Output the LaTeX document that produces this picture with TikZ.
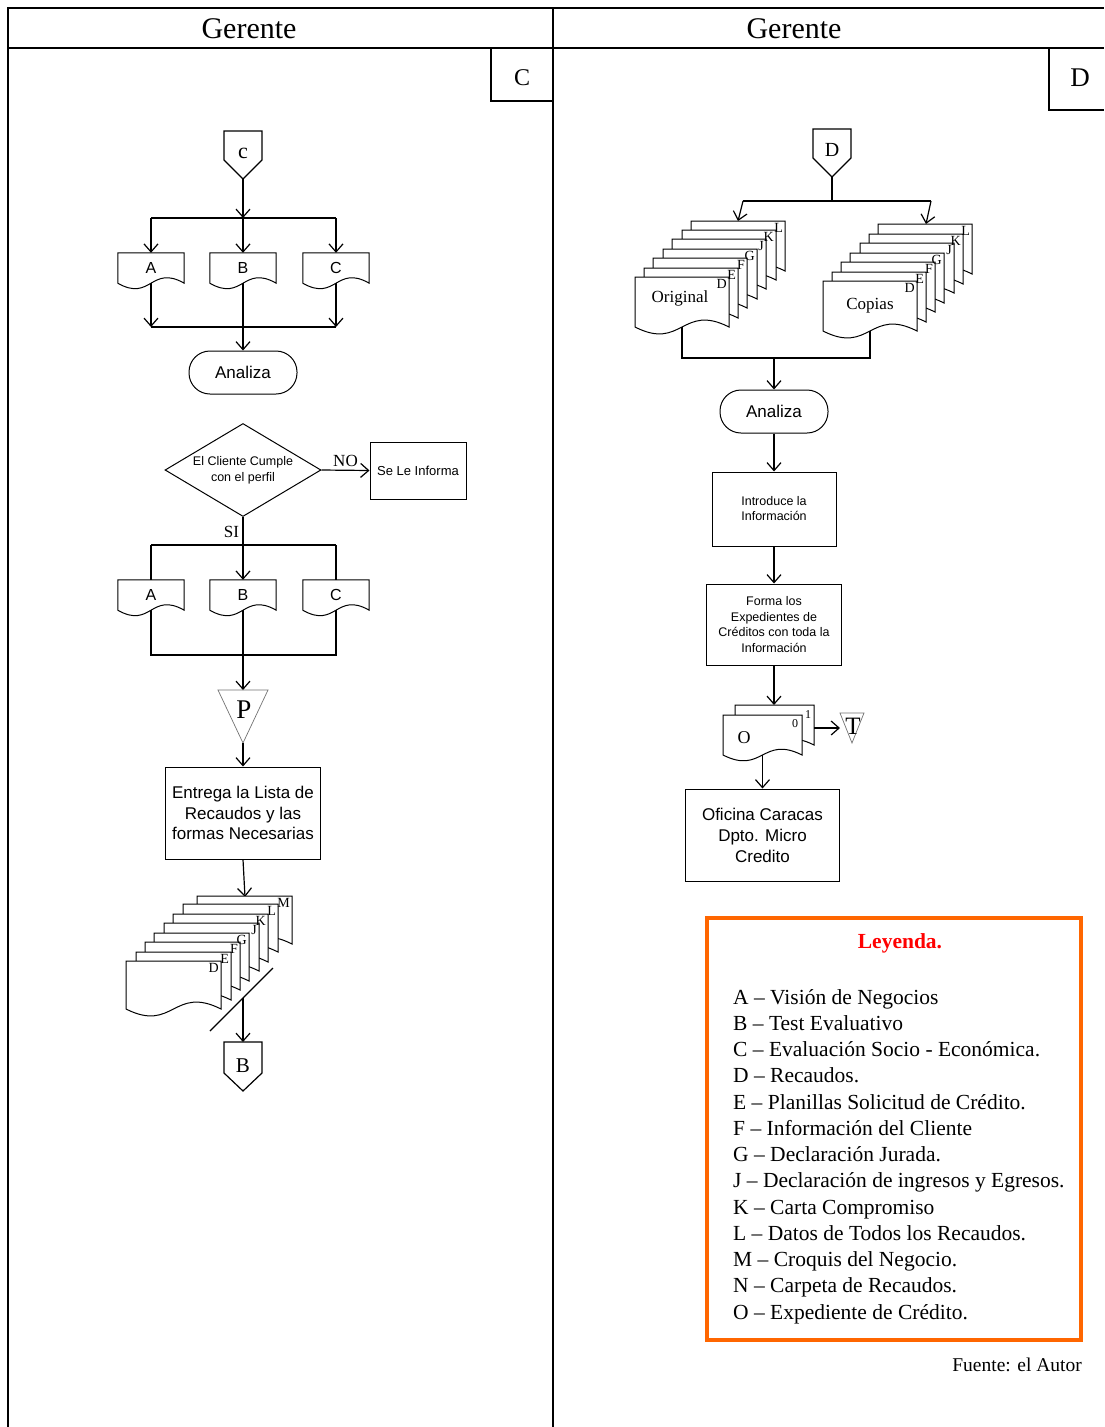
\documentclass[tikz,border=0pt]{standalone}
\usepackage{fontspec}
\setmainfont{Liberation Serif}
\newfontfamily\arial{Liberation Sans}
\usetikzlibrary{arrows.meta,shapes.geometric,calc}
\definecolor{legor}{RGB}{255,102,0}
\definecolor{legred}{RGB}{255,0,0}
\newcommand\fsz[2]{\fontsize{#1}{#2}\selectfont}
% sheet of a stack: x y w h c
\newcommand\stacksheet[5]{\begin{scope}[shift={(#1,#2)}]\filldraw[line width=1pt,fill=white] (0,0) -- (#3,0) -- (#3,#4) .. controls ({#3/2},{#4-#5}) and ({#3/2},{#4+#5}) .. (0,#4) -- cycle;\end{scope}}
\newcommand\docout[1]{\draw[line width=1pt] (#1.north west) -- (#1.north east) -- (#1.south east) .. controls ($(#1.south)+(0,-19)$) and ($(#1.south)+(0,19)$) .. (#1.south west) -- cycle;}
\begin{document}
\begin{tikzpicture}[x=1pt,y=-1pt,
 ln/.style={line width=1.2pt},
 arr/.style={line width=1.2pt,-{Straight Barb[length=8pt,width=14pt]}},
 sbox/.style={draw,line width=1pt,inner sep=0pt,align=center},
 docn/.style={inner sep=0pt,minimum width=66pt,minimum height=30pt,font=\arial\fsz{16}{18}},
 lab/.style={inner sep=1pt,anchor=north east,font=\fsz{14}{15}},
 thinl/.style={draw=black!55,line width=0.7pt}]

\useasboundingbox (0,0) rectangle (1104,1427);
\fill[white] (0,0) rectangle (1104,1427);

% ---------- frame ----------
\draw[ln] (8,1427) -- (8,8) -- (1104,8);
\draw[ln] (8,48) -- (1104,48);
\draw[ln] (553,8) -- (553,1427);
\node[font=\fsz{30}{34}] (hl) at (249,29) {Gerente};
\node[font=\fsz{30}{34}] (hr) at (794,29) {Gerente};
\draw[ln] (491,48) -- (491,101) -- (553,101);
\node[font=\fsz{24}{26}] (pc) at (522,78) {C};
\draw[ln] (1049,48) -- (1049,110) -- (1104,110);
\node[font=\fsz{27}{30}] (pd) at (1080,78) {D};

% ---------- left column ----------
\draw[ln] (224,131) -- (262,131) -- (262,160) -- (243,179) coordinate (conctip) -- (224,160) -- cycle;
\node[font=\fsz{22}{22}] (conc) at (243,153) {c};
\coordinate (j1) at (243,218);
\coordinate (jA1) at (151,218);
\coordinate (jC1) at (336,218);
\draw[arr] (conctip) -- (j1);
\draw[ln] (jA1) -- (jC1);
\node[docn] (A1) at (151,268) {A};
\node[docn] (B1) at (243,268) {B};
\node[docn] (C1) at (336,268) {C};
\docout{A1}\docout{B1}\docout{C1}
\draw[arr] (jA1) -- (A1.north);
\draw[arr] (j1) -- (B1.north);
\draw[arr] (jC1) -- (C1.north);
\coordinate (jA2) at (151,327);
\coordinate (jC2) at (336,327);
\draw[arr] (A1.south) -- (jA2);
\draw[arr] (C1.south) -- (jC2);
\draw[ln] (jA2) -- (jC2);
\node[draw,line width=1pt,rounded corners=21pt,minimum width=108pt,minimum height=43pt,font=\arial\fsz{17}{18}] (an1) at (243,372.5) {Analiza};
\draw[arr] (B1.south) -- (an1.north);

\node[diamond,draw,line width=1pt,aspect=1.68,minimum width=156pt,minimum height=93pt,inner sep=0pt,align=center,font=\arial\fsz{12.5}{16}] (dm) at (243,470) {El Cliente Cumple\\con el perfil};
\node[sbox,minimum width=96pt,minimum height=57pt,font=\arial\fsz{13}{15}] (inf) at (418,470.5) {Se Le Informa};
\draw[arr] (dm.east) -- (inf.west) node[midway,above=0pt,font=\fsz{17}{18}] (no) {NO};

\node[docn] (A2) at (151,595) {A};
\node[docn] (B2) at (243,595) {B};
\node[docn] (C2) at (336,595) {C};
\docout{A2}\docout{B2}\docout{C2}
\draw[arr] (dm.south) -- (B2.north) node[pos=0.24,left=0pt,font=\fsz{17}{18}] (si) {SI};
\coordinate (s1) at (151,545);
\coordinate (s2) at (336,545);
\coordinate (s3) at (151,655);
\coordinate (s4) at (336,655);
\draw[ln] (s1) -- (s2);
\draw[ln] (s1) -- (A2.north);
\draw[ln] (s2) -- (C2.north);
\draw[ln] (A2.south) -- (s3) -- (s4) -- (C2.south);

\draw[thinl] (218,690) coordinate (pl) -- (268,690) -- (243,743) coordinate (pbot) -- cycle;
\coordinate (ptop) at (243,690);
\node[font=\fsz{27}{28}] (plab) at (244,710) {P};
\draw[arr] (B2.south) -- (ptop);
\node[sbox,minimum width=155pt,minimum height=92pt,font=\arial\fsz{17}{20.5}] (ent) at (243,813) {Entrega la Lista de\\Recaudos y las\\formas Necesarias};
\draw[arr] (pbot) -- (ent.north);
\coordinate (stk1) at (245,897);
\draw[arr] (ent.south) -- (stk1);

\foreach \x/\y in {197/896,183/904,173/914,164/923,154/933,145/942,136/952,126/961}
  {\stacksheet{\x}{\y}{95}{48}{24}}
\foreach \x/\y/\l in {197/896/M,183/904/L,173/914/K,164/923/J,154/933/G,145/942/F,136/952/E,126/961/D}
  {\node[lab] (lb\l) at ({\x+94},{\y+1}) {\l};}
\draw[ln] (210,1031) coordinate (sl1) -- (273,968) coordinate (sl2);
\coordinate (slm) at (243,998);
\draw[ln] (224,1042) -- (262,1042) -- (262,1073) -- (243,1091) -- (224,1073) -- cycle;
\coordinate (conbtop) at (243,1042);
\node[font=\fsz{21}{22}] (conb) at (243,1066) {B};
\draw[arr] (slm) -- (conbtop);

% ---------- right column ----------
\draw[ln] (813,129) -- (851,129) -- (851,158) -- (832,177) coordinate (condtip) -- (813,158) -- cycle;
\node[font=\fsz{20}{22}] (cond) at (832,150) {D};
\coordinate (jd) at (832,201);
\coordinate (jdl) at (743,201);
\coordinate (jdr) at (931,201);
\coordinate (stkO) at (738,221);
\coordinate (stkC) at (926,224);
\draw[ln] (condtip) -- (jd);
\draw[ln] (jdl) -- (jdr);
\draw[arr] (jdl) -- (stkO);
\draw[arr] (jdr) -- (stkC);

\foreach \x/\y in {691/221,682/230,672/239,663/249,653/258,644/268,635/277}
  {\stacksheet{\x}{\y}{94}{50}{24}}
\foreach \x/\y/\l in {691/221/L,682/230/K,672/239/J,663/249/G,653/258/F,644/268/E,635/277/D}
  {\node[lab] (lo\l) at ({\x+93},{\y+1}) {\l};}
\node[font=\fsz{17}{18}] (orig) at (680,298) {Original};

\foreach \x/\y in {878/224,869/234,860/243,850/253,841/262,832/272,823/281}
  {\stacksheet{\x}{\y}{94}{50}{24}}
\foreach \x/\y/\l in {878/224/L,869/234/K,860/243/J,850/253/G,841/262/F,832/272/E,823/281/D}
  {\node[lab] (lc\l) at ({\x+93},{\y+1}) {\l};}
\node[font=\fsz{17}{18}] (cop) at (870,306) {Copias};

\coordinate (ob) at (682,327);
\coordinate (ob2) at (682,358);
\coordinate (cb) at (870,331);
\coordinate (cb2) at (870,358);
\coordinate (jm) at (774,358);
\draw[ln] (ob) -- (ob2) -- (cb2) -- (cb);
\node[draw,line width=1pt,rounded corners=21pt,minimum width=108pt,minimum height=43pt,font=\arial\fsz{17}{18}] (an2) at (774,411.5) {Analiza};
\draw[arr] (jm) -- (an2.north);
\node[sbox,minimum width=124pt,minimum height=74pt,font=\arial\fsz{12.5}{15}] (intro) at (774,509) {Introduce la\\Información};
\draw[arr] (an2.south) -- (intro.north);
\node[sbox,minimum width=135pt,minimum height=81pt,font=\arial\fsz{12.5}{15.7}] (forma) at (774,624.5) {Forma los\\Expedientes de\\Créditos con toda la\\Información};
\draw[arr] (intro.south) -- (forma.north);
\coordinate (otop) at (774,705);
\draw[arr] (forma.south) -- (otop);

\stacksheet{735}{705}{79}{40}{20}
\stacksheet{723}{715}{79}{40}{20}
\node[font=\fsz{12}{12}] (o1) at (808,715) {1};
\node[font=\fsz{12}{12}] (o0) at (795,724) {0};
\node[font=\fsz{18}{18}] (olab) at (744,738) {O};
\coordinate (o1r) at (814,728);
\draw[thinl] (840,713) -- (864,713) -- (852,743) -- cycle;
\coordinate (tl) at (840,728);
\node[font=\fsz{25}{26}] (tlab) at (853,726) {T};
\draw[arr] (o1r) -- (tl);
\coordinate (obot) at (762.5,755);
\node[sbox,minimum width=154pt,minimum height=92pt,font=\arial\fsz{17}{21}] (ofi) at (762.5,835) {Oficina Caracas\\Dpto. Micro\\Credito};
\draw[arr] (obot) -- (ofi.north);

% ---------- legend ----------
\node[draw=legor,line width=3.5pt,minimum width=374pt,minimum height=422pt,inner sep=0pt] (leg) at (894,1129) {};
\node[font=\bfseries\fsz{21.5}{24},text=legred] (legt) at (900,943) {Leyenda.};
\foreach \t [count=\i from 0] in {{A – Visión de Negocios},{B – Test Evaluativo},{C – Evaluación Socio - Económica.},{D – Recaudos.},{E – Planillas Solicitud de Crédito.},{F – Información del Cliente},{G – Declaración Jurada.},{J – Declaración de ingresos y Egresos.},{K – Carta Compromiso},{L – Datos de Todos los Recaudos.},{M – Croquis del Negocio.},{N – Carpeta de Recaudos.},{O – Expediente de Crédito.}}
  {\node[anchor=base west,inner sep=0pt,font=\fsz{21.5}{24}] (li\i) at (733,{1004+26.25*\i}) {\t};}
\node[anchor=base east,inner sep=0pt,font=\fsz{19.5}{21}] (fte) at (1082,1371) {Fuente: el Autor};
\end{tikzpicture}
\end{document}
